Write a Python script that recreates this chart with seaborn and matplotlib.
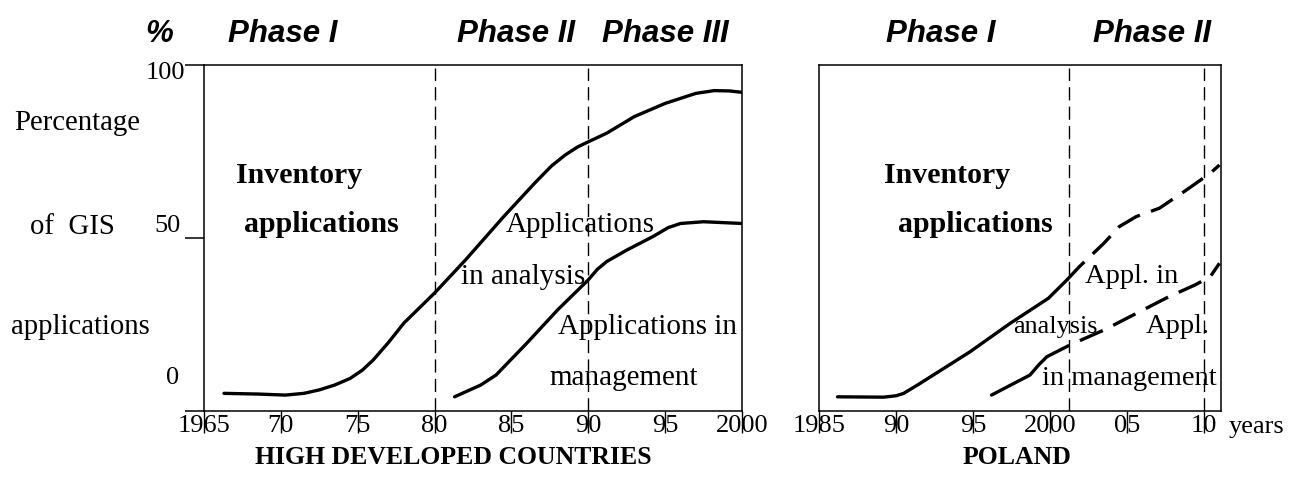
import matplotlib
matplotlib.use("Agg")
import matplotlib.pyplot as plt
import matplotlib.transforms as mtransforms
import seaborn as sns

# ---- data ----
# high developed countries
hd_years = [1965, 1970, 1975, 1980, 1985, 1990, 1995, 2000]
hd_tick_labels = ["1965", "70", "75", "80", "85", "90", "95", "2000"]
hd_analysis_x = [1966.3, 1968.5, 1970.3, 1971.5, 1972.5, 1973.5, 1974.5, 1975.3, 1976.0, 1977.0,
                 1978.0, 1980.0, 1982.0, 1984.5, 1986.5, 1987.6, 1988.5, 1989.3, 1990.0,
                 1991.2, 1993.0, 1995.0, 1997.0, 1998.2, 1999.2, 2000.0]
hd_analysis_y = [5.1, 4.9, 4.6, 5.1, 6.1, 7.5, 9.4, 11.8, 14.7, 19.8,
                 25.4, 34.1, 43.6, 56.2, 65.8, 70.8, 74.0, 76.3, 77.8,
                 80.3, 85.1, 88.9, 91.8, 92.6, 92.5, 92.1]
hd_mgmt_x = [1981.3, 1983.0, 1984.0, 1986.0, 1988.0, 1990.0, 1990.6, 1991.2, 1992.5, 1994.2,
             1995.2, 1996.0, 1997.5, 2000.0]
hd_mgmt_y = [4.1, 7.5, 10.4, 19.6, 29.2, 37.9, 41.0, 43.2, 46.5, 50.4,
             53.0, 54.2, 54.7, 54.2]
hd_phase_bounds = [1980, 1990]

# Poland
pl_years = [1985, 1990, 1995, 2000, 2005, 2010]
pl_tick_labels = ["1985", "90", "95", "2000", "05", "10"]
pl_analysis_x = [1986.2, 1989.2, 1990.0, 1990.5, 1991.5, 1992.6, 1994.8, 1997.4, 1999.9, 2001.1]
pl_analysis_y = [4.1, 4.0, 4.4, 5.1, 7.8, 10.9, 17.1, 25.3, 32.6, 37.9]
pl_analysis_fc_x = [2001.1, 2001.9, 2003.5, 2004.5, 2005.6, 2007.1, 2008.7, 2010.4, 2011.0]
pl_analysis_fc_y = [37.9, 41.7, 48.5, 53.3, 56.2, 58.6, 63.4, 68.7, 71.1]
pl_mgmt_x = [1996.2, 1998.7, 1999.3, 1999.8]
pl_mgmt_y = [4.6, 10.4, 13.5, 15.7]
pl_mgmt_fc_x = [1999.8, 2001.3, 2003.5, 2005.6, 2007.7, 2009.4, 2010.4, 2011.0]
pl_mgmt_fc_y = [15.7, 19.1, 23.4, 28.2, 33.0, 36.4, 38.8, 42.7]
pl_phase_bounds = [2001.2, 2010]

y_ticks = [0, 50, 100]
y_tick_labels = ["0", "50", "100"]

sns.set_theme(style="white")
plt.rcParams["font.family"] = ["Liberation Serif", "DejaVu Serif"]
plt.rcParams["axes.edgecolor"] = "black"
plt.rcParams["axes.linewidth"] = 1.1
plt.rcParams["text.color"] = "black"
plt.rcParams["xtick.color"] = "black"
plt.rcParams["ytick.color"] = "black"

fig = plt.figure(figsize=(12.96, 4.82), dpi=100)
W, H = 1296, 482


def px_axes(x0, x1, y0, y1):
    return fig.add_axes([x0 / W, 1 - y1 / H, (x1 - x0) / W, (y1 - y0) / H])


ax1 = px_axes(204, 742, 65, 411)
ax2 = px_axes(819, 1221, 65, 411)

lw = 2.4
fc_style = (0, (7.5, 3.5))
phase_style = (0, (9.5, 4.5))

# left panel curves
sns.lineplot(x=hd_analysis_x, y=hd_analysis_y, ax=ax1, color="black", lw=lw)
sns.lineplot(x=hd_mgmt_x, y=hd_mgmt_y, ax=ax1, color="black", lw=lw)
for b in hd_phase_bounds:
    ax1.axvline(b, ymin=0, ymax=0.99, color="black", lw=1.0, linestyle=phase_style)

# right panel curves (solid = observed, long dashes = continuation)
sns.lineplot(x=pl_analysis_x, y=pl_analysis_y, ax=ax2, color="black", lw=lw)
sns.lineplot(x=pl_analysis_fc_x, y=pl_analysis_fc_y, ax=ax2, color="black", lw=lw,
             linestyle=fc_style)
sns.lineplot(x=pl_mgmt_x, y=pl_mgmt_y, ax=ax2, color="black", lw=lw)
sns.lineplot(x=pl_mgmt_fc_x, y=pl_mgmt_fc_y, ax=ax2, color="black", lw=lw,
             linestyle=fc_style)
for b in pl_phase_bounds:
    ax2.axvline(b, ymin=0, ymax=0.99, color="black", lw=1.0, linestyle=phase_style)

ax1.set_xlim(1965, 2000)
ax2.set_xlim(1985, 2011.1)
for ax in (ax1, ax2):
    ax.set_ylim(0, 100)
    ax.set_xlabel("")
    ax.set_ylabel("")
    for s in ax.spines.values():
        s.set_visible(True)
        s.set_color("black")

ax1.set_xticks(hd_years, hd_tick_labels)
ax2.set_xticks(pl_years, pl_tick_labels)
for ax in (ax1, ax2):
    ax.tick_params(axis="x", bottom=True, direction="out", length=15.8, width=1.0,
                   color="black", pad=-12.9, labelsize=19, labelcolor="black")

# y axis: ticks only on the left panel, labels placed by hand (offset as in the original)
ax1.set_yticks(y_ticks)
ax1.tick_params(axis="y", left=True, direction="out", length=13.7, width=1.1,
                color="black", labelleft=False)
ax2.set_yticks([])
ylab_tr = mtransforms.blended_transform_factory(ax1.transAxes, ax1.transData)
ylab_pos = {"0": (-0.046, 9.5), "50": (-0.044, 53.5), "100": (-0.035, 97.7)}
for v, lab in zip(y_ticks, y_tick_labels):
    x, y = ylab_pos[lab]
    ax1.text(x, y, lab, transform=ylab_tr, ha="right", va="center", fontsize=19)

# "years" after the last tick label
ax2.text(2011.6, -0.045, "years", transform=mtransforms.blended_transform_factory(
    ax2.transData, ax2.transAxes), ha="left", va="center", fontsize=19, clip_on=False)

# in-panel annotations
bold = dict(fontsize=21.5, fontweight="bold", ha="left", va="center")
norm = dict(fontsize=21, ha="left", va="center")
ax1.text(1967.1, 68.2, "Inventory", **bold)
ax1.text(1967.6, 53.8, "applications", **bold)
ax1.text(1984.6, 53.8, "Applications", **norm)
ax1.text(1981.75, 38.7, "in analysis", **norm)
ax1.text(1988.0, 24.4, "Applications in", **norm)
ax1.text(1987.45, 9.5, "management", **norm)

ax2.text(1989.2, 68.2, "Inventory", **bold)
ax2.text(1990.1, 53.8, "applications", **bold)
ax2.text(2002.3, 38.8, "Appl. in", fontsize=20.5, ha="left", va="center")
ax2.text(1997.6, 24.4, "analysis", fontsize=18.8, ha="left", va="center")
ax2.text(2006.2, 24.4, "Appl.", fontsize=20.5, ha="left", va="center")
ax2.text(1999.5, 9.5, "in management", fontsize=20.5, ha="left", va="center")

# y axis title (three lines spread along the axis)
for txt, (x, y) in {"Percentage": (77, 123), "of  GIS": (72, 227),
                    "applications": (80, 327)}.items():
    fig.text(x / W, 1 - y / H, txt, ha="center", va="center", fontsize=20.7)

# phase headers
sans = ["Liberation Sans", "DejaVu Sans"]
for txt, x in [("%", 159), ("Phase I", 283), ("Phase II", 516), ("Phase III", 665),
               ("Phase I", 941), ("Phase II", 1152)]:
    fig.text(x / W, 1 - 42 / H, txt, ha="center", va="baseline", fontsize=22.5,
             fontweight="bold", fontstyle="italic", family=sans)

# panel titles
fig.text(453 / W, 1 - 458 / H, "HIGH DEVELOPED COUNTRIES", ha="center", va="center",
         fontsize=18.5, fontweight="bold")
fig.text(1017 / W, 1 - 458 / H, "POLAND", ha="center", va="center",
         fontsize=18.5, fontweight="bold")

fig.savefig("out.png", dpi=100)
